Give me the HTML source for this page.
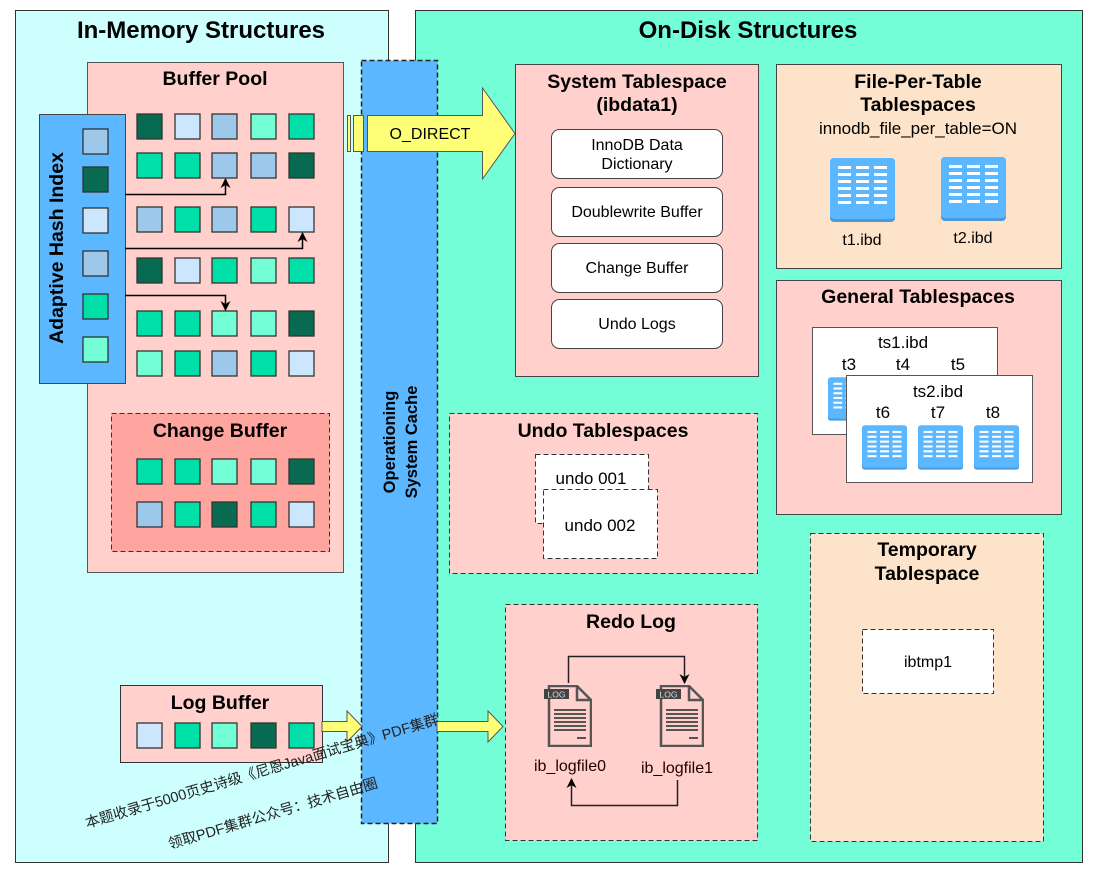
<!DOCTYPE html>
<html><head><meta charset="utf-8"><style>
html,body{margin:0;padding:0;background:#fff;}
svg{display:block;}
text{font-family:"Liberation Sans","Noto Sans CJK SC",sans-serif;}
.b{font-weight:bold;}
</style></head><body>
<svg width="1098" height="875" viewBox="0 0 1098 875" xmlns="http://www.w3.org/2000/svg">
<defs>
<symbol id="db" viewBox="0 0 65 64">
<rect x="0" y="0" width="65" height="64" rx="4" fill="#4a9ad8"/>
<rect x="0" y="0" width="65" height="61" rx="4" fill="#5bb7ff"/>
<g fill="#fff">
<rect x="8" y="8" width="13" height="3"/><rect x="26" y="8" width="13" height="3"/><rect x="44" y="8" width="13" height="3"/>
<rect x="8" y="15" width="13" height="3"/><rect x="26" y="15" width="13" height="3"/><rect x="44" y="15" width="13" height="3"/>
<rect x="8" y="22" width="13" height="3"/><rect x="26" y="22" width="13" height="3"/><rect x="44" y="22" width="13" height="3"/>
<rect x="8" y="29" width="13" height="3"/><rect x="26" y="29" width="13" height="3"/><rect x="44" y="29" width="13" height="3"/>
<rect x="8" y="36" width="13" height="3"/><rect x="26" y="36" width="13" height="3"/><rect x="44" y="36" width="13" height="3"/>
<rect x="8" y="43" width="13" height="3"/><rect x="26" y="43" width="13" height="3"/><rect x="44" y="43" width="13" height="3"/>
</g>
</symbol>
<symbol id="log" viewBox="0 0 48 62">
<path d="M5 1 H33 L47 15 V61 H5 Z" fill="none" stroke="#555" stroke-width="2.5"/>
<path d="M33 1 V15 H47" fill="none" stroke="#555" stroke-width="2.5"/>
<rect x="0" y="4" width="25" height="10" fill="#444"/>
<text x="12.5" y="12.5" font-size="8.5" fill="#ddd" text-anchor="middle">LOG</text>
<g fill="#555"><rect x="10" y="24" width="32" height="2"/><rect x="10" y="28" width="32" height="2"/><rect x="10" y="32" width="32" height="2"/><rect x="10" y="36" width="32" height="2"/><rect x="10" y="40" width="32" height="2"/><rect x="10" y="44" width="32" height="2"/><rect x="33" y="52" width="9" height="2"/></g>
</symbol>
<marker id="ah" markerWidth="10" markerHeight="10" refX="9" refY="5" orient="auto" markerUnits="userSpaceOnUse"><path d="M0 0 L10 5 L0 10 L3 5 Z" fill="#000"/></marker>
</defs>

<rect x="15.5" y="10.5" width="373" height="852" fill="#ccfffe" stroke="#333"/>
<rect x="415.5" y="10.5" width="667" height="852" fill="#74fed8" stroke="#333"/>
<text x="201" y="38" font-size="24" class="b" text-anchor="middle">In-Memory Structures</text>
<text x="748" y="38" font-size="24" class="b" text-anchor="middle">On-Disk Structures</text>

<rect x="87.5" y="62.5" width="256" height="510" fill="#ffd0cc" stroke="#555"/>
<text x="215" y="85" font-size="19.5" class="b" text-anchor="middle">Buffer Pool</text>
<g stroke="#333" stroke-width="1.3">
<rect x="137" y="114" width="25" height="25" fill="#086a50"/><rect x="175" y="114" width="25" height="25" fill="#cce6fe"/><rect x="212" y="114" width="25" height="25" fill="#9dc8ea"/><rect x="251" y="114" width="25" height="25" fill="#74fed6"/><rect x="289" y="114" width="25" height="25" fill="#00dfa7"/>
<rect x="137" y="153" width="25" height="25" fill="#00dfa7"/><rect x="175" y="153" width="25" height="25" fill="#00dfa7"/><rect x="212" y="153" width="25" height="25" fill="#9dc8ea"/><rect x="251" y="153" width="25" height="25" fill="#9dc8ea"/><rect x="289" y="153" width="25" height="25" fill="#086a50"/>
<rect x="137" y="207" width="25" height="25" fill="#9dc8ea"/><rect x="175" y="207" width="25" height="25" fill="#00dfa7"/><rect x="212" y="207" width="25" height="25" fill="#9dc8ea"/><rect x="251" y="207" width="25" height="25" fill="#00dfa7"/><rect x="289" y="207" width="25" height="25" fill="#cce6fe"/>
<rect x="137" y="258" width="25" height="25" fill="#086a50"/><rect x="175" y="258" width="25" height="25" fill="#cce6fe"/><rect x="212" y="258" width="25" height="25" fill="#00dfa7"/><rect x="251" y="258" width="25" height="25" fill="#74fed6"/><rect x="289" y="258" width="25" height="25" fill="#00dfa7"/>
<rect x="137" y="311" width="25" height="25" fill="#00dfa7"/><rect x="175" y="311" width="25" height="25" fill="#00dfa7"/><rect x="212" y="311" width="25" height="25" fill="#74fed6"/><rect x="251" y="311" width="25" height="25" fill="#74fed6"/><rect x="289" y="311" width="25" height="25" fill="#086a50"/>
<rect x="137" y="351" width="25" height="25" fill="#74fed6"/><rect x="175" y="351" width="25" height="25" fill="#00dfa7"/><rect x="212" y="351" width="25" height="25" fill="#9dc8ea"/><rect x="251" y="351" width="25" height="25" fill="#00dfa7"/><rect x="289" y="351" width="25" height="25" fill="#cce6fe"/>
</g>

<rect x="39.5" y="114.5" width="86" height="269" fill="#5bb7ff" stroke="#444"/>
<text transform="translate(63,248) rotate(-90)" font-size="19.5" class="b" text-anchor="middle">Adaptive Hash Index</text>
<g stroke="#333" stroke-width="1.3">
<rect x="83" y="129" width="25" height="25" fill="#9dc8ea"/>
<rect x="83" y="167" width="25" height="25" fill="#086a50"/>
<rect x="83" y="208" width="25" height="25" fill="#cce6fe"/>
<rect x="83" y="251" width="25" height="25" fill="#9dc8ea"/>
<rect x="83" y="294" width="25" height="25" fill="#00dfa7"/>
<rect x="83" y="337" width="25" height="25" fill="#74fed6"/>
</g>
<g fill="none" stroke="#000" stroke-width="1.5">
<path d="M125 194.5 H225.5 V179" marker-end="url(#ah)"/>
<path d="M125 248.5 H302.5 V233" marker-end="url(#ah)"/>
<path d="M125 295.5 H225.5 V310" marker-end="url(#ah)"/>
</g>

<rect x="111.5" y="413.5" width="218" height="138" fill="#ffa5a0" stroke="#333" stroke-dasharray="5,3"/>
<text x="220" y="437" font-size="19.5" class="b" text-anchor="middle">Change Buffer</text>
<g stroke="#333" stroke-width="1.3">
<rect x="137" y="459" width="25" height="25" fill="#00dfa7"/><rect x="175" y="459" width="25" height="25" fill="#00dfa7"/><rect x="212" y="459" width="25" height="25" fill="#74fed6"/><rect x="251" y="459" width="25" height="25" fill="#74fed6"/><rect x="289" y="459" width="25" height="25" fill="#086a50"/>
<rect x="137" y="502" width="25" height="25" fill="#9dc8ea"/><rect x="175" y="502" width="25" height="25" fill="#00dfa7"/><rect x="212" y="502" width="25" height="25" fill="#086a50"/><rect x="251" y="502" width="25" height="25" fill="#00dfa7"/><rect x="289" y="502" width="25" height="25" fill="#cce6fe"/>
</g>

<rect x="120.5" y="685.5" width="202" height="77" fill="#ffd0cc" stroke="#333"/>
<text x="220" y="709" font-size="19.5" class="b" text-anchor="middle">Log Buffer</text>
<g stroke="#333" stroke-width="1.3">
<rect x="137" y="723" width="25" height="25" fill="#cce6fe"/><rect x="175" y="723" width="25" height="25" fill="#00dfa7"/><rect x="212" y="723" width="25" height="25" fill="#74fed6"/><rect x="251" y="723" width="25" height="25" fill="#086a50"/><rect x="289" y="723" width="25" height="25" fill="#00dfa7"/>
</g>

<rect x="361.5" y="60.5" width="76" height="763" fill="#5bb7ff" stroke="#222" stroke-dasharray="5,3" stroke-width="1.5"/>
<text transform="translate(399,442) rotate(-90)" font-size="16.5" class="b" text-anchor="middle"><tspan x="0" y="-4">Operationing</tspan><tspan x="0" y="18">System Cache</tspan></text>

<path d="M322 721.5 H347 V711 L362 726.5 L347 742 V731.5 H322 Z" fill="#ffff77" stroke="#555"/>
<path d="M437 721.5 H488 V711 L503 726.5 L488 742 V731.5 H437 Z" fill="#ffff77" stroke="#555"/>
<rect x="347.5" y="115.5" width="3" height="36" fill="#ffff77" stroke="#555"/>
<rect x="353.5" y="115.5" width="10" height="36" fill="#ffff77" stroke="#555"/>
<path d="M367.5 115.5 H482.5 V88 L515 133.5 L482.5 179 V151.5 H367.5 Z" fill="#ffff77" stroke="#555"/>
<text x="430" y="139" font-size="16" text-anchor="middle">O_DIRECT</text>

<rect x="515.5" y="64.5" width="243" height="312" fill="#ffd0cc" stroke="#444"/>
<text x="637" y="88" font-size="19.5" class="b" text-anchor="middle">System Tablespace</text>
<text x="637" y="111" font-size="19.5" class="b" text-anchor="middle">(ibdata1)</text>
<g fill="#fff" stroke="#444">
<rect x="551.5" y="129.5" width="171" height="49" rx="8"/>
<rect x="551.5" y="187.5" width="171" height="49" rx="8"/>
<rect x="551.5" y="243.5" width="171" height="49" rx="8"/>
<rect x="551.5" y="299.5" width="171" height="49" rx="8"/>
</g>
<g font-size="16" text-anchor="middle">
<text x="637" y="150">InnoDB Data</text>
<text x="637" y="169">Dictionary</text>
<text x="637" y="217">Doublewrite Buffer</text>
<text x="637" y="273">Change Buffer</text>
<text x="637" y="329">Undo Logs</text>
</g>

<rect x="776.5" y="64.5" width="285" height="204" fill="#fde3c9" stroke="#444"/>
<text x="918" y="88" font-size="19.5" class="b" text-anchor="middle">File-Per-Table</text>
<text x="918" y="111" font-size="19.5" class="b" text-anchor="middle">Tablespaces</text>
<text x="918" y="134" font-size="17" text-anchor="middle">innodb_file_per_table=ON</text>
<use href="#db" x="830" y="158" width="65" height="64"/>
<use href="#db" x="941" y="157" width="65" height="64"/>
<text x="862" y="245" font-size="16" text-anchor="middle">t1.ibd</text>
<text x="973" y="243" font-size="16" text-anchor="middle">t2.ibd</text>

<rect x="776.5" y="280.5" width="285" height="234" fill="#ffd0cc" stroke="#444"/>
<text x="918" y="303" font-size="19.5" class="b" text-anchor="middle">General Tablespaces</text>
<rect x="812.5" y="327.5" width="185" height="107" fill="#fff" stroke="#555"/>
<text x="903" y="348" font-size="17" text-anchor="middle">ts1.ibd</text>
<g font-size="17" text-anchor="middle"><text x="849" y="370">t3</text><text x="903" y="370">t4</text><text x="958" y="370">t5</text></g>
<use href="#db" x="828" y="377" width="44" height="44"/>
<rect x="846.5" y="375.5" width="186" height="107" fill="#fff" stroke="#555"/>
<text x="938" y="397" font-size="17" text-anchor="middle">ts2.ibd</text>
<g font-size="17" text-anchor="middle"><text x="883" y="418">t6</text><text x="938" y="418">t7</text><text x="993" y="418">t8</text></g>
<use href="#db" x="862" y="425" width="45" height="45"/>
<use href="#db" x="918" y="425" width="45" height="45"/>
<use href="#db" x="974" y="425" width="45" height="45"/>

<rect x="449.5" y="413.5" width="308" height="160" fill="#ffd0cc" stroke="#333" stroke-dasharray="5,3"/>
<text x="603" y="437" font-size="19.5" class="b" text-anchor="middle">Undo Tablespaces</text>
<rect x="535.5" y="454.5" width="113" height="69" fill="#fff" stroke="#333" stroke-dasharray="5,3"/>
<text x="591" y="484" font-size="17" text-anchor="middle">undo 001</text>
<rect x="543.5" y="489.5" width="114" height="69" fill="#fff" stroke="#333" stroke-dasharray="5,3"/>
<text x="600" y="531" font-size="17" text-anchor="middle">undo 002</text>

<rect x="810.5" y="533.5" width="233" height="308" fill="#fde3c9" stroke="#333" stroke-dasharray="5,3"/>
<text x="927" y="556" font-size="19.5" class="b" text-anchor="middle">Temporary</text>
<text x="927" y="580" font-size="19.5" class="b" text-anchor="middle">Tablespace</text>
<rect x="862.5" y="629.5" width="131" height="64" fill="#fff" stroke="#333" stroke-dasharray="5,3"/>
<text x="928" y="667" font-size="16" text-anchor="middle">ibtmp1</text>

<rect x="505.5" y="604.5" width="252" height="236" fill="#ffd0cc" stroke="#333" stroke-dasharray="5,3"/>
<text x="631" y="628" font-size="19.5" class="b" text-anchor="middle">Redo Log</text>
<use href="#log" x="544" y="685" width="48" height="62"/>
<use href="#log" x="656" y="685" width="48" height="62"/>
<text x="570" y="771" font-size="16" fill="#200" text-anchor="middle">ib_logfile0</text>
<text x="677" y="773" font-size="16" fill="#200" text-anchor="middle">ib_logfile1</text>
<g fill="none" stroke="#222" stroke-width="1.5">
<path d="M568.5 683 V656.5 H684.5 V683" marker-end="url(#ah)"/>
<path d="M677.5 780 V805.5 H571.5 V779" marker-end="url(#ah)"/>
</g>

<g font-size="14.5" fill="#222">
<text transform="translate(87,828) rotate(-16.5)">本题收录于5000页史诗级《尼恩Java面试宝典》PDF集群</text>
<text transform="translate(170,849) rotate(-16.5)">领取PDF集群公众号：技术自由圈</text>
</g>
</svg>
</body></html>
